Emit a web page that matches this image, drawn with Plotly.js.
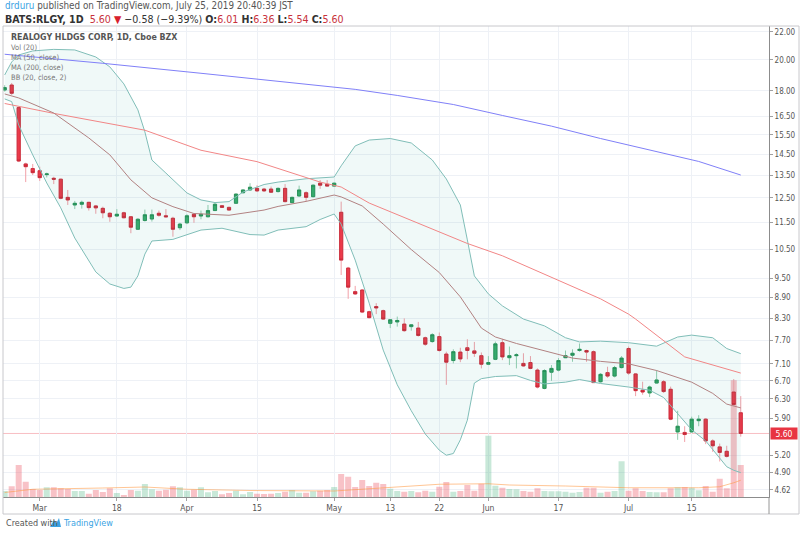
<!DOCTYPE html>
<html><head><meta charset="utf-8">
<script src="https://cdn.plot.ly/plotly-3.0.1.min.js"></script>
<style>html,body{margin:0;padding:0;background:#fff;}#chart{width:800px;height:535px;}</style>
</head><body><div id="chart"></div>
<script>
// ---------------- DATA ----------------
const dates = [
 '2019-02-22','2019-02-25','2019-02-26','2019-02-27','2019-02-28',
 '2019-03-01','2019-03-04','2019-03-05','2019-03-06','2019-03-07','2019-03-08','2019-03-11','2019-03-12','2019-03-13','2019-03-14','2019-03-15','2019-03-18','2019-03-19','2019-03-20','2019-03-21','2019-03-22','2019-03-25','2019-03-26','2019-03-27','2019-03-28','2019-03-29',
 '2019-04-01','2019-04-02','2019-04-03','2019-04-04','2019-04-05','2019-04-08','2019-04-09','2019-04-10','2019-04-11','2019-04-12','2019-04-15','2019-04-16','2019-04-17','2019-04-18','2019-04-22','2019-04-23','2019-04-24','2019-04-25','2019-04-26','2019-04-29','2019-04-30',
 '2019-05-01','2019-05-02','2019-05-03','2019-05-06','2019-05-07','2019-05-08','2019-05-09','2019-05-10','2019-05-13','2019-05-14','2019-05-15','2019-05-16','2019-05-17','2019-05-20','2019-05-21','2019-05-22','2019-05-23','2019-05-24','2019-05-28','2019-05-29','2019-05-30','2019-05-31',
 '2019-06-03','2019-06-04','2019-06-05','2019-06-06','2019-06-07','2019-06-10','2019-06-11','2019-06-12','2019-06-13','2019-06-14','2019-06-17','2019-06-18','2019-06-19','2019-06-20','2019-06-21','2019-06-24','2019-06-25','2019-06-26','2019-06-27','2019-06-28',
 '2019-07-01','2019-07-02','2019-07-03','2019-07-05','2019-07-08','2019-07-09','2019-07-10','2019-07-11','2019-07-12','2019-07-15','2019-07-16','2019-07-17','2019-07-18','2019-07-19','2019-07-22','2019-07-23','2019-07-24'
];
const openP = [18.05,18.36,17.00,14.03,13.81, 13.71,13.53,13.36,13.32,12.52,12.20,12.23,12.31,12.16,12.06,11.86,11.75,11.88,11.72,11.23,11.57,11.63,11.86,11.76,11.66,11.29,
 11.48,11.82,11.75,11.72,11.97,12.17,12.10,12.27,12.72,12.84,12.91,12.88,12.88,12.77,12.91,12.30,12.58,12.72,12.55,13.14,13.09,
 13.01,11.90,9.84,9.08,9.13,8.48,8.63,8.51,8.15,8.19,8.13,8.06,8.02,7.76,7.66,7.79,7.34,7.18,7.39,7.50,7.42,7.30,
 7.09,7.21,7.63,7.25,7.30,7.11,7.13,6.95,6.53,6.90,6.95,7.25,7.31,7.43,7.43,7.40,6.68,6.89,6.81,7.01,
 7.48,6.86,6.49,6.43,6.65,6.68,6.51,5.63,5.62,5.63,5.85,5.88,5.46,5.35,5.27,6.45,6.01];
const highP = [18.35,18.49,17.05,14.09,14.03, 13.90,13.62,13.43,13.34,12.84,12.37,12.38,12.33,12.20,12.13,11.90,12.03,11.92,11.75,11.66,12.01,12.01,11.97,12.03,11.72,11.48,
 11.82,11.86,11.97,12.20,12.30,12.20,12.13,12.69,12.87,13.14,13.05,12.93,12.99,12.95,13.10,12.55,13.03,12.78,13.08,13.28,13.28,
 13.17,12.34,9.88,9.26,9.16,8.51,8.73,8.54,8.27,8.34,8.29,8.13,8.19,7.79,7.88,7.90,7.40,7.46,7.50,7.72,7.65,7.38,
 7.29,7.66,7.73,7.53,7.36,7.36,7.29,6.99,6.97,7.07,7.24,7.43,7.46,7.61,7.45,7.43,6.88,7.03,7.05,7.29,
 7.53,6.88,6.68,6.59,6.95,6.72,6.57,6.05,5.74,5.93,5.96,5.90,5.49,5.41,5.37,6.74,6.36];
const lowP = [17.95,17.75,14.12,13.19,13.51, 13.24,13.40,13.10,12.44,12.20,12.03,12.05,11.97,11.84,11.66,11.52,11.72,11.66,11.08,11.21,11.53,11.53,11.72,11.70,10.95,11.20,
 11.43,11.48,11.62,11.70,11.95,12.08,11.97,12.24,12.69,12.81,12.75,12.75,12.71,12.73,12.31,12.27,12.55,12.34,12.52,12.89,12.99,
 13.00,9.61,8.86,8.98,8.44,8.29,8.41,8.25,8.02,8.06,7.92,7.95,7.79,7.55,7.63,7.40,6.61,7.11,7.14,7.21,7.27,6.99,
 7.07,7.19,7.19,7.07,6.99,7.03,6.97,6.53,6.51,6.70,6.92,7.24,7.15,7.40,7.15,6.65,6.66,6.77,6.78,6.99,
 6.84,6.36,6.39,6.34,6.64,6.43,5.86,5.48,5.44,5.62,5.74,5.40,5.26,5.09,5.16,6.15,5.54];
const closeP = [18.20,17.85,14.17,13.90,13.62, 13.39,13.56,13.32,12.48,12.41,12.27,12.31,12.09,12.08,11.88,11.72,11.82,11.68,11.31,11.62,11.80,11.80,11.78,11.72,11.23,11.43,
 11.76,11.72,11.82,11.97,12.23,12.10,11.99,12.66,12.84,12.96,12.80,12.80,12.74,12.91,12.34,12.52,12.84,12.52,13.05,13.05,13.01,
 13.14,10.11,9.22,9.01,8.47,8.31,8.59,8.27,8.25,8.23,7.95,8.11,7.82,7.59,7.84,7.43,7.14,7.40,7.22,7.43,7.36,7.09,
 7.13,7.60,7.27,7.30,7.32,7.05,6.99,6.56,6.94,6.99,7.18,7.30,7.36,7.46,7.39,6.66,6.85,6.81,7.01,7.24,
 6.88,6.48,6.45,6.56,6.72,6.46,5.88,5.74,5.58,5.88,5.88,5.46,5.37,5.25,5.18,6.18,5.60];
// volume, millions of shares
const volume = [2.4,4.3,12.8,6.1,3.2, 2.8,3.9,3.9,3.5,3.2,2.4,2.4,1.3,2.8,2.0,3.5,1.6,0.8,2.8,2.5,5.2,3.1,2.5,2.9,4.3,3.9,
 2.5,2.9,3.9,1.9,2.4,1.1,1.6,2.5,1.1,2.0,1.3,1.2,1.3,1.6,2.1,2.8,1.7,1.7,2.3,2.5,2.8,
 4.0,9.2,8.1,4.0,6.8,4.4,5.7,5.2,3.3,2.4,2.1,2.4,1.9,2.5,2.1,4.1,6.0,2.1,2.4,4.8,2.5,5.3,
 24.5,4.5,3.7,3.2,3.1,2.4,2.1,3.5,2.4,2.3,2.3,2.1,1.7,2.0,3.7,3.7,1.7,2.1,2.4,14.3,
 2.5,3.5,2.4,2.0,1.9,1.9,3.5,3.9,4.0,3.7,2.7,4.4,2.1,7.3,3.5,46.7,12.8];

// Indicator lines
const ma20Dates = ['2019-02-22','2019-02-26','2019-03-05','2019-03-12','2019-03-15','2019-03-20','2019-03-25','2019-03-28','2019-04-02','2019-04-09','2019-04-16','2019-04-18','2019-04-25','2019-05-01','2019-05-02','2019-05-07','2019-05-10','2019-05-16','2019-05-22','2019-05-28','2019-05-31','2019-06-04','2019-06-07','2019-06-13','2019-06-19','2019-06-25','2019-07-01','2019-07-08','2019-07-15','2019-07-18','2019-07-22','2019-07-24'];
const ma20Vals = [17.81,17.57,16.69,15.33,14.47,13.29,12.50,12.13,11.85,11.78,11.99,12.14,12.35,12.62,12.54,12.16,11.43,10.48,9.69,8.92,8.02,7.78,7.61,7.43,7.24,7.16,7.10,6.94,6.67,6.42,6.19,6.11];

const bbUpDates = ['2019-02-22','2019-02-25','2019-02-26','2019-02-28','2019-03-05','2019-03-08','2019-03-13','2019-03-15','2019-03-19','2019-03-21','2019-03-22','2019-03-25','2019-03-27','2019-04-01','2019-04-03','2019-04-05','2019-04-09','2019-04-11','2019-04-16','2019-04-18','2019-04-25','2019-05-01','2019-05-02','2019-05-06','2019-05-08','2019-05-13','2019-05-16','2019-05-21','2019-05-23','2019-05-28','2019-05-29','2019-05-30','2019-06-03','2019-06-05','2019-06-10','2019-06-13','2019-06-18','2019-06-20','2019-06-25','2019-07-01','2019-07-08','2019-07-11','2019-07-15','2019-07-18','2019-07-22','2019-07-24'];
const bbUpVals = [19.00,19.86,20.34,20.62,20.73,20.69,20.20,19.53,18.43,16.87,15.65,14.22,13.60,12.71,12.41,12.30,12.34,12.75,13.08,13.19,13.34,13.42,13.94,14.92,15.22,15.30,15.07,14.22,13.33,12.20,10.83,9.58,9.01,8.65,8.27,8.08,7.76,7.65,7.67,7.63,7.54,7.78,7.83,7.76,7.48,7.35];

const bbLoDates = ['2019-02-22','2019-02-25','2019-02-26','2019-02-28','2019-03-04','2019-03-06','2019-03-08','2019-03-13','2019-03-15','2019-03-19','2019-03-20','2019-03-21','2019-03-22','2019-03-25','2019-03-28','2019-04-01','2019-04-03','2019-04-08','2019-04-12','2019-04-16','2019-04-18','2019-04-25','2019-04-29','2019-05-01','2019-05-02','2019-05-06','2019-05-08','2019-05-10','2019-05-14','2019-05-16','2019-05-20','2019-05-22','2019-05-23','2019-05-24','2019-05-28','2019-05-29','2019-05-30','2019-05-31','2019-06-04','2019-06-07','2019-06-11','2019-06-13','2019-06-18','2019-06-20','2019-06-25','2019-07-01','2019-07-05','2019-07-09','2019-07-11','2019-07-15','2019-07-17','2019-07-19','2019-07-22','2019-07-23','2019-07-24'];
const bbLoVals = [17.51,17.35,16.02,14.47,13.15,12.08,10.90,9.71,9.32,9.18,9.22,9.58,10.32,10.79,10.85,11.01,11.20,11.27,11.03,11.01,11.20,11.33,11.61,11.83,11.43,10.11,8.73,7.44,6.61,6.05,5.59,5.29,5.20,5.23,5.48,5.86,6.65,6.75,6.80,6.82,6.71,6.63,6.67,6.73,6.64,6.56,6.49,6.33,5.98,5.67,5.46,5.15,5.00,4.94,4.90];

const ma50Dates = ['2019-02-22','2019-03-05','2019-03-22','2019-03-29','2019-04-03','2019-04-15','2019-04-29','2019-05-02','2019-05-08','2019-05-29','2019-06-05','2019-06-25','2019-07-01','2019-07-02','2019-07-09','2019-07-12','2019-07-24'];
const ma50Vals = [17.24,16.67,15.74,15.09,14.70,14.14,13.19,12.97,12.28,10.70,10.26,8.86,8.41,8.27,7.69,7.27,6.88];

const ma200Dates = ['2019-02-22','2019-03-14','2019-04-03','2019-04-25','2019-05-06','2019-05-14','2019-05-24','2019-06-05','2019-06-14','2019-06-25','2019-07-05','2019-07-16','2019-07-24'];
const ma200Vals = [20.39,19.77,19.11,18.39,18.09,17.72,17.18,16.55,15.96,15.30,14.72,14.15,13.51];

const volMaDates = ['2019-02-22','2019-02-28','2019-03-14','2019-03-22','2019-04-01','2019-04-12','2019-05-01','2019-05-08','2019-05-14','2019-05-22','2019-06-03','2019-06-06','2019-06-18','2019-07-01','2019-07-16','2019-07-19','2019-07-23','2019-07-24'];
const volMaVals = [1.8,3.1,3.6,4.0,3.1,2.6,2.4,3.4,4.0,5.1,5.3,4.8,4.4,3.7,3.7,4.1,5.7,6.7];

const xTickDates = ['2019-03-01','2019-03-18','2019-04-01','2019-04-15','2019-05-01','2019-05-13','2019-05-22','2019-06-03','2019-06-17','2019-07-01','2019-07-15'];
const xTickText = ['Mar','18','Apr','15','May','13','22','Jun','17','Jul','15'];
const yTickVals = [22,20,18,16.5,15.5,14.5,13.5,12.5,11.5,10.5,9.5,8.9,8.3,7.7,7.1,6.7,6.3,5.9,5.2,4.9,4.62];
const yTickText = ['22.00','20.00','18.00','16.50','15.50','14.50','13.50','12.50','11.50','10.50','9.50','8.90','8.30','7.70','7.10','6.70','6.30','5.90','5.20','4.90','4.62'];
const lastPrice = 5.60;

// ---------------- STYLE ----------------
const FONT = '"Liberation Sans Narrow","DejaVu Sans Condensed","Liberation Sans",Arial,sans-serif';
const RED = 'rgb(236,58,74)', RED_LINE = 'rgb(196,36,52)', RED_WICK = 'rgb(242,160,168)';
const GREEN = 'rgb(58,172,108)', GREEN_LINE = 'rgb(36,138,82)', GREEN_WICK = 'rgb(150,206,176)';
const volMax = 188.4;

const up = closeP.map((c, i) => c >= openP[i]);
const volColors = up.map(u => u ? 'rgba(83,185,135,0.32)' : 'rgba(235,77,92,0.34)');
const bodyHigh = closeP.map((c, i) => Math.max(c, openP[i]));
const bodyLow = closeP.map((c, i) => Math.min(c, openP[i]));

const traces = [
  {type:'bar', x:dates, y:volume, marker:{color:volColors, line:{width:0}}, xaxis:'x', yaxis:'y', hoverinfo:'skip'},
  {type:'scatter', mode:'lines', x:volMaDates, y:volMaVals, line:{color:'rgba(255,150,60,0.55)', width:1}, xaxis:'x', yaxis:'y', hoverinfo:'skip'},
  {type:'scatter', mode:'lines', x:bbUpDates, y:bbUpVals, line:{color:'rgb(128,190,184)', width:1}, xaxis:'x', yaxis:'y2', hoverinfo:'skip'},
  {type:'scatter', mode:'lines', x:bbLoDates, y:bbLoVals, line:{color:'rgb(128,190,184)', width:1}, fill:'tonexty', fillcolor:'rgba(0,150,136,0.06)', xaxis:'x', yaxis:'y2', hoverinfo:'skip'},
  {type:'scatter', mode:'lines', x:ma200Dates, y:ma200Vals, line:{color:'rgb(128,128,248)', width:1}, xaxis:'x', yaxis:'y2', hoverinfo:'skip'},
  {type:'scatter', mode:'lines', x:ma50Dates, y:ma50Vals, line:{color:'rgb(242,134,134)', width:1}, xaxis:'x', yaxis:'y2', hoverinfo:'skip'},
  {type:'scatter', mode:'lines', x:ma20Dates, y:ma20Vals, line:{color:'rgb(178,130,130)', width:1}, xaxis:'x', yaxis:'y2', hoverinfo:'skip'},
  {type:'candlestick', x:dates, open:openP, high:highP, low:lowP, close:closeP, xaxis:'x', yaxis:'y2', whiskerwidth:0,
    increasing:{line:{color:GREEN_WICK, width:1}, fillcolor:'rgba(0,0,0,0)'},
    decreasing:{line:{color:RED_WICK, width:1}, fillcolor:'rgba(0,0,0,0)'}, hoverinfo:'skip'},
  {type:'candlestick', x:dates, open:openP, high:bodyHigh, low:bodyLow, close:closeP, xaxis:'x', yaxis:'y2', whiskerwidth:0,
    increasing:{line:{color:GREEN_LINE, width:0.8}, fillcolor:GREEN},
    decreasing:{line:{color:RED_LINE, width:0.8}, fillcolor:RED}, hoverinfo:'skip'}
];

// pixel helpers for page furniture (plot area: x 3..769, y 26..497)
const PX = px => (px - 3) / 766;
const PY = py => (497 - py) / 471;

const legendFont = {family:FONT, size:7.5, color:'#777'};
const annotations = [
  {xref:'paper', yref:'paper', x:PX(3), y:PY(5.5), xanchor:'left', yanchor:'middle', showarrow:false,
   text:'<span style="color:#3aa3e3">drduru</span> published on TradingView.com, July 25, 2019 20:40:39 JST',
   font:{family:FONT, size:9.8, color:'#555'}},
  {xref:'paper', yref:'paper', x:PX(3), y:PY(18.8), xanchor:'left', yanchor:'middle', showarrow:false,
   text:'<b>BATS:RLGY, 1D</b>  <span style="color:#c8323c">5.60</span> <span style="color:#d8202c">▼</span> −0.58 (−9.39%) <b>O:</b><span style="color:#c8323c">6.01</span> <b>H:</b><span style="color:#c8323c">6.36</span> <b>L:</b><span style="color:#c8323c">5.54</span> <b>C:</b><span style="color:#c8323c">5.60</span>',
   font:{family:FONT, size:10.6, color:'#333'}},
  {xref:'paper', yref:'paper', x:PX(9), y:PY(37), xanchor:'left', yanchor:'middle', showarrow:false,
   text:'<b>REALOGY HLDGS CORP, 1D, Cboe BZX</b>', font:{family:FONT, size:8.8, color:'#555'}},
  {xref:'paper', yref:'paper', x:PX(9), y:PY(47.7), xanchor:'left', yanchor:'middle', showarrow:false, text:'Vol (20)', font:legendFont},
  {xref:'paper', yref:'paper', x:PX(9), y:PY(57.7), xanchor:'left', yanchor:'middle', showarrow:false, text:'MA (50, close)', font:legendFont},
  {xref:'paper', yref:'paper', x:PX(9), y:PY(67.7), xanchor:'left', yanchor:'middle', showarrow:false, text:'MA (200, close)', font:legendFont},
  {xref:'paper', yref:'paper', x:PX(9), y:PY(77.7), xanchor:'left', yanchor:'middle', showarrow:false, text:'BB (20, close, 2)', font:legendFont},
  {xref:'paper', yref:'y2', x:1, y:Math.log10(lastPrice), xanchor:'left', yanchor:'middle', showarrow:false, xshift:1,
   text:lastPrice.toFixed(2), bgcolor:'rgb(232,52,66)', width:26, height:11, borderpad:0,
   font:{family:FONT, size:8.5, color:'#ffffff'}},
  {xref:'paper', yref:'paper', x:PX(4), y:PY(523), xanchor:'left', yanchor:'middle', showarrow:false,
   text:'Created with', font:{family:FONT, size:9, color:'#555'}},
  {xref:'paper', yref:'paper', x:PX(61), y:PY(523), xanchor:'left', yanchor:'middle', showarrow:false,
   text:'TradingView', font:{family:FONT, size:9, color:'#3aa3e3'}}
];

const shapes = [
  {type:'rect', xref:'paper', yref:'paper', x0:PX(3), x1:PX(799), y0:PY(514), y1:PY(26), line:{color:'rgb(200,200,204)', width:1}, layer:'above'},
  {type:'line', xref:'paper', yref:'paper', x0:1, x1:1, y0:PY(514), y1:PY(497), line:{color:'rgb(150,150,150)', width:1}},
  {type:'line', xref:'paper', yref:'y2', x0:0, x1:1, y0:lastPrice, y1:lastPrice, line:{color:'rgba(236,70,84,0.35)', width:1}, layer:'below'},
  // TradingView logo mark
  {type:'path', xref:'paper', yref:'paper', path:`M ${PX(50)} ${PY(527)} L ${PX(54)} ${PY(520)} L ${PX(56.5)} ${PY(523)} L ${PX(59)} ${PY(518)} L ${PX(61)} ${PY(527)} Z`, fillcolor:'#3aa3e3', line:{width:0}}
];

const layout = {
  width:800, height:535,
  margin:{l:3, r:31, t:26, b:38, pad:0},
  paper_bgcolor:'#ffffff', plot_bgcolor:'#ffffff',
  showlegend:false,
  font:{family:FONT, size:9, color:'#555'},
  boxgap:0.35, bargap:0.14,
  xaxis:{type:'category', categoryorder:'array', categoryarray:dates, range:[-0.24, 109.03],
    rangeslider:{visible:false}, tickmode:'array', tickvals:xTickDates, ticktext:xTickText,
    showgrid:true, gridcolor:'#eef1f6', gridwidth:1, ticks:'outside', ticklen:3, tickcolor:'#a0a0a0',
    showline:true, linecolor:'#8c8c8c', linewidth:1, zeroline:false, tickangle:0,
    tickfont:{family:FONT, size:8.5, color:'#555'}, fixedrange:true},
  yaxis:{range:[0, volMax], visible:false, fixedrange:true},
  yaxis2:{overlaying:'y', side:'right', type:'log', range:[Math.log10(4.51), Math.log10(22.45)],
    tickmode:'array', tickvals:yTickVals, ticktext:yTickText, showgrid:true, gridcolor:'#eef1f6', gridwidth:1,
    ticks:'outside', ticklen:3, tickcolor:'#a0a0a0', showline:true, linecolor:'#8c8c8c', linewidth:1,
    zeroline:false, tickfont:{family:FONT, size:8, color:'#555'}, fixedrange:true},
  annotations:annotations,
  shapes:shapes
};

Plotly.newPlot('chart', traces, layout, {staticPlot:true, displayModeBar:false});
</script>
</body></html>
